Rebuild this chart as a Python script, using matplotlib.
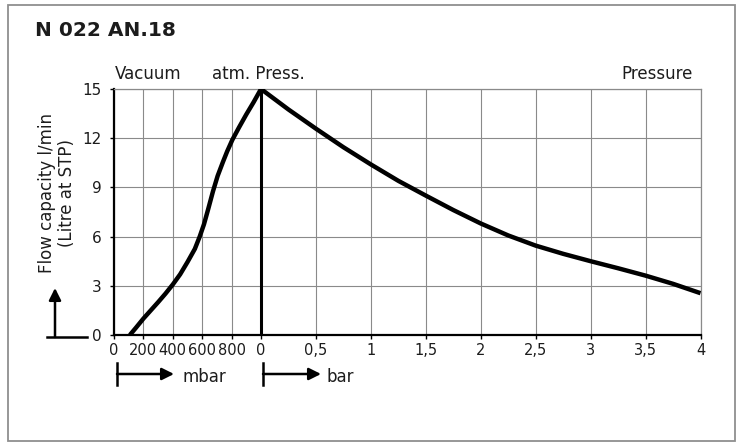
import matplotlib
matplotlib.use("Agg")
import matplotlib.pyplot as plt
from matplotlib.patches import Rectangle
from matplotlib.lines import Line2D

# Vacuum side (mbar absolute) and pressure side (bar overpressure)
vac_mbar = [108, 150, 200, 250, 300, 350, 400, 450, 500, 550, 583, 612, 640, 673,
            705, 741, 770, 805, 850, 900, 950, 1000]
vac_flow = [0, 0.45, 1.0, 1.5, 2.0, 2.52, 3.08, 3.7, 4.45, 5.25, 6.0, 6.75, 7.65, 8.75,
            9.7, 10.55, 11.2, 11.9, 12.65, 13.45, 14.2, 15]

press_bar = [0, 0.25, 0.5, 0.75, 1, 1.25, 1.5, 1.75, 2, 2.25, 2.5, 2.75, 3, 3.25, 3.5, 3.75, 4]
press_flow = [15, 13.75, 12.58, 11.45, 10.4, 9.4, 8.5, 7.62, 6.8, 6.07, 5.45, 4.95, 4.5, 4.07, 3.62, 3.12, 2.55]

vac_ticks = [0, 200, 400, 600, 800]
press_ticks = [0, 0.5, 1, 1.5, 2, 2.5, 3, 3.5, 4]
press_labels = ["0", "0,5", "1", "1,5", "2", "2,5", "3", "3,5", "4"]
y_ticks = [0, 3, 6, 9, 12, 15]

W, H = 738, 443
TXT = "#1c1c1c"
GRID = "#8a8a8a"

# width of the vacuum part in "bar" units of the shared x axis
V = 147 / 439.5 * 4


def vx(mbar):
    return (mbar - 1000) / 1000 * V


def fp(x, y):
    # figure pixel (top-down) -> figure fraction
    return (x / W, 1 - y / H)


plt.rcParams["font.family"] = ["DejaVu Sans"]

fig = plt.figure(figsize=(W / 100, H / 100), dpi=100)
ax = fig.add_axes([114 / W, 1 - 335 / H, (700.5 - 114) / W, (335 - 89) / H])

xs = [vx(m) for m in vac_mbar] + press_bar[1:]
ys = vac_flow + press_flow[1:]
ax.plot(xs, ys, color="black", lw=3.2, solid_joinstyle="miter", solid_capstyle="butt", zorder=4)
ax.plot([0, 0], [0, 15], color="black", lw=2.2, zorder=3)

xt = [vx(m) for m in vac_ticks] + press_ticks
xl = [str(m) for m in vac_ticks] + press_labels
ax.set_xticks(xt)
ax.set_xticklabels(xl, fontsize=10.5, color=TXT)
ax.set_yticks(y_ticks)
ax.set_yticklabels([str(v) for v in y_ticks], fontsize=11, color=TXT)
ax.set_xlim(-V, 4)
ax.set_ylim(0, 15)
ax.grid(True, color=GRID, lw=0.8)
ax.tick_params(axis="both", length=3, width=1, color="black", pad=3)
ax.tick_params(axis="y", pad=6)

for s in ["left", "bottom"]:
    ax.spines[s].set_color("black")
    ax.spines[s].set_linewidth(1.6)
for s in ["top", "right"]:
    ax.spines[s].set_color(GRID)
    ax.spines[s].set_linewidth(0.9)

# texts
fig.text(*fp(35, 31), "N 022 AN.18", fontsize=14.5, fontweight="bold", color=TXT, va="center")
fig.text(*fp(115, 74), "Vacuum", fontsize=12, color=TXT, va="center")
fig.text(*fp(258, 74), "atm. Press.", fontsize=12, color=TXT, va="center", ha="center")
fig.text(*fp(693, 74), "Pressure", fontsize=12, color=TXT, va="center", ha="right")
fig.text(*fp(57, 193), "Flow capacity l/min\n(Litre at STP)", fontsize=12, color=TXT,
         va="center", ha="center", rotation=90, linespacing=1.15)
fig.text(*fp(182, 377), "mbar", fontsize=12, color=TXT, va="center")
fig.text(*fp(327, 377), "bar", fontsize=12, color=TXT, va="center")

# arrows
def arrow(x0, y0, x1, y1):
    ax.annotate("", xy=fp(x1, y1), xytext=fp(x0, y0), xycoords="figure fraction",
                textcoords="figure fraction", annotation_clip=False,
                arrowprops=dict(arrowstyle="-|>", color="black", lw=1.8,
                                mutation_scale=18, shrinkA=0, shrinkB=0))


def seg(x0, y0, x1, y1, lw=1.8):
    a, b = fp(x0, y0)
    c, d = fp(x1, y1)
    fig.add_artist(Line2D([a, c], [b, d], color="black", lw=lw))


arrow(55, 337, 55, 288)
seg(47, 337, 87, 337)
arrow(117, 374, 174, 374)
seg(117, 363, 117, 385)
arrow(263, 374, 321, 374)
seg(263, 363, 263, 385)

# outer frame
fig.add_artist(Rectangle(fp(8, 441), (735 - 8) / W, (441 - 5) / H, transform=fig.transFigure,
                         fill=False, edgecolor="#8f8f8f", lw=1.3))

fig.savefig("out.png", dpi=100)
